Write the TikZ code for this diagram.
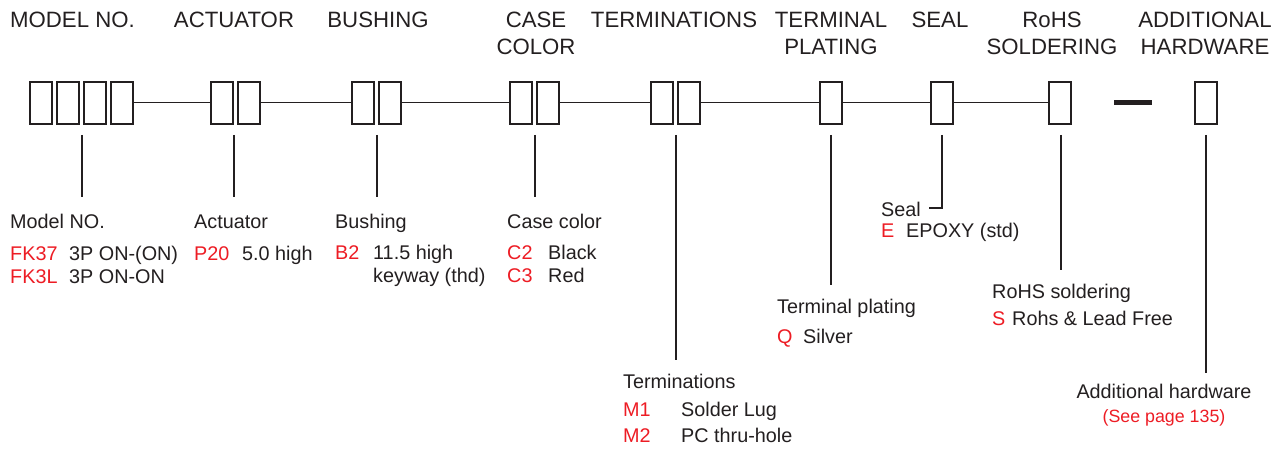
\documentclass[tikz,border=0pt]{standalone}
\usepackage{fontspec}
\setmainfont{Liberation Sans}
\usepackage{xcolor}
\definecolor{ink3}{RGB}{35,31,32}
\definecolor{red3}{RGB}{237,28,36}
\usepackage{tikz}

\begin{document}
\begin{tikzpicture}[x=1pt, y=-1pt,
    cell/.style={draw=ink3, line width=1.3pt, minimum width=22pt,
        minimum height=42pt, inner sep=0pt},
    head/.style={ink3, font=\fontsize{22.2}{27}\selectfont, align=center,
        inner sep=0pt, anchor=base},
    txt/.style={ink3, font=\fontsize{19.8}{23}\selectfont, inner sep=0pt,
        anchor=base west},
    code/.style={txt, red3},
    lead/.style={ink3, line width=1.2pt},
    link/.style={ink3, line width=1pt}]

\useasboundingbox (0,0) rectangle (1285,454);

% Headings (two-line ones sit on the baseline of their last line)
\node[head, anchor=base west] (hmodel) at (10,28) {MODEL NO.};
\node[head] (hact) at (234,28) {ACTUATOR};
\node[head] (hbush) at (378,28) {BUSHING};
\node[head] (hcase) at (536,55) {CASE\\COLOR};
\node[head] (hterm) at (674,28) {TERMINATIONS};
\node[head] (hplat) at (831,55) {TERMINAL\\PLATING};
\node[head] (hseal) at (940,28) {SEAL};
\node[head] (hrohs) at (1052,55) {RoHS\\SOLDERING};
\node[head] (hadd) at (1205,55) {ADDITIONAL\\HARDWARE};

% Code boxes
\foreach \i/\x in {1/41, 2/68, 3/95, 4/122}
    \node[cell] (m\i) at (\x,103) {};
\node[cell] (a1) at (222,103) {};
\node[cell] (a2) at (249,103) {};
\node[cell] (b1) at (363,103) {};
\node[cell] (b2) at (390,103) {};
\node[cell] (c1) at (521,103) {};
\node[cell] (c2) at (548,103) {};
\node[cell] (t1) at (662,103) {};
\node[cell] (t2) at (689,103) {};
\node[cell] (p1) at (831,103) {};
\node[cell] (s1) at (942,103) {};
\node[cell] (r1) at (1060,103) {};
\node[fill=ink3, minimum width=38pt, minimum height=5pt, inner sep=0pt]
    (hyph) at (1133,103) {};
\node[cell] (h1) at (1206,103) {};

% Links between the groups
\draw[link] (m4.east) -- (a1.west);
\draw[link] (a2.east) -- (b1.west);
\draw[link] (b2.east) -- (c1.west);
\draw[link] (c2.east) -- (t1.west);
\draw[link] (t2.east) -- (p1.west);
\draw[link] (p1.east) -- (s1.west);
\draw[link] (s1.east) -- (r1.west);

% Leader lines
\draw[lead] (82,135) coordinate (mtop) -- (82,197) coordinate (mend);
\draw[lead] (234,135) coordinate (atop) -- (234,197) coordinate (aend);
\draw[lead] (377,135) coordinate (btop) -- (377,197) coordinate (bend);
\draw[lead] (535,135) coordinate (ctop) -- (535,197) coordinate (cend);
\draw[lead] (676,135) coordinate (ttop) -- (676,360) coordinate (tend);
\draw[lead] (831,135) coordinate (ptop) -- (831,285) coordinate (pend);
\draw[lead] (942,135) coordinate (stop) -- (942,208) coordinate (scorner)
    -- (929,208) coordinate (send);
\draw[lead] (1061,135) coordinate (rtop) -- (1061,270) coordinate (rend);
\draw[lead] (1206,135) coordinate (htop) -- (1206,373) coordinate (hend);

% Model NO.
\node[txt] (lmodel) at (10,229) {Model NO.};
\node[code] (fk37) at (10,261) {FK37};
\node[txt] (dfk37) at (69,261) {3P ON-(ON)};
\node[code] (fk3l) at (10,284) {FK3L};
\node[txt] (dfk3l) at (69,284) {3P ON-ON};

% Actuator
\node[txt] (lact) at (194,229) {Actuator};
\node[code] (p20) at (194,261) {P20};
\node[txt] (dp20) at (242,261) {5.0 high};

% Bushing
\node[txt] (lbush) at (335,229) {Bushing};
\node[code] (b2c) at (335,260) {B2};
\node[txt] (db2a) at (373,260) {11.5 high};
\node[txt] (db2b) at (373,283) {keyway (thd)};

% Case color
\node[txt] (lcase) at (507,229) {Case color};
\node[code] (c2c) at (507,260) {C2};
\node[txt] (dc2) at (548,260) {Black};
\node[code] (c3c) at (507,283) {C3};
\node[txt] (dc3) at (548,283) {Red};

% Seal
\node[txt] (lseal) at (881,217) {Seal};
\node[code] (ec) at (881,238) {E};
\node[txt] (de) at (906,238) {EPOXY (std)};

% Terminal plating
\node[txt] (lplat) at (777,313) {Terminal plating};
\node[code] (qc) at (777,343) {Q};
\node[txt] (dq) at (803,343) {Silver};

% RoHS soldering
\node[txt] (lrohs) at (992,299) {RoHS soldering};
\node[code] (sc) at (992,325) {S};
\node[txt] (ds) at (1012,325) {Rohs \& Lead Free};

% Terminations
\node[txt] (lterm) at (623,388) {Terminations};
\node[code] (m1c) at (623,416) {M1};
\node[txt] (dm1) at (681,416) {Solder Lug};
\node[code] (m2c) at (623,442) {M2};
\node[txt] (dm2) at (681,442) {PC thru-hole};

% Additional hardware
\node[txt, anchor=base] (ladd) at (1164,398) {Additional hardware};
\node[red3, font=\fontsize{17.8}{21}\selectfont, inner sep=0pt, anchor=base]
    (seepage) at (1164,422) {(See page 135)};

\end{tikzpicture}
\end{document}
